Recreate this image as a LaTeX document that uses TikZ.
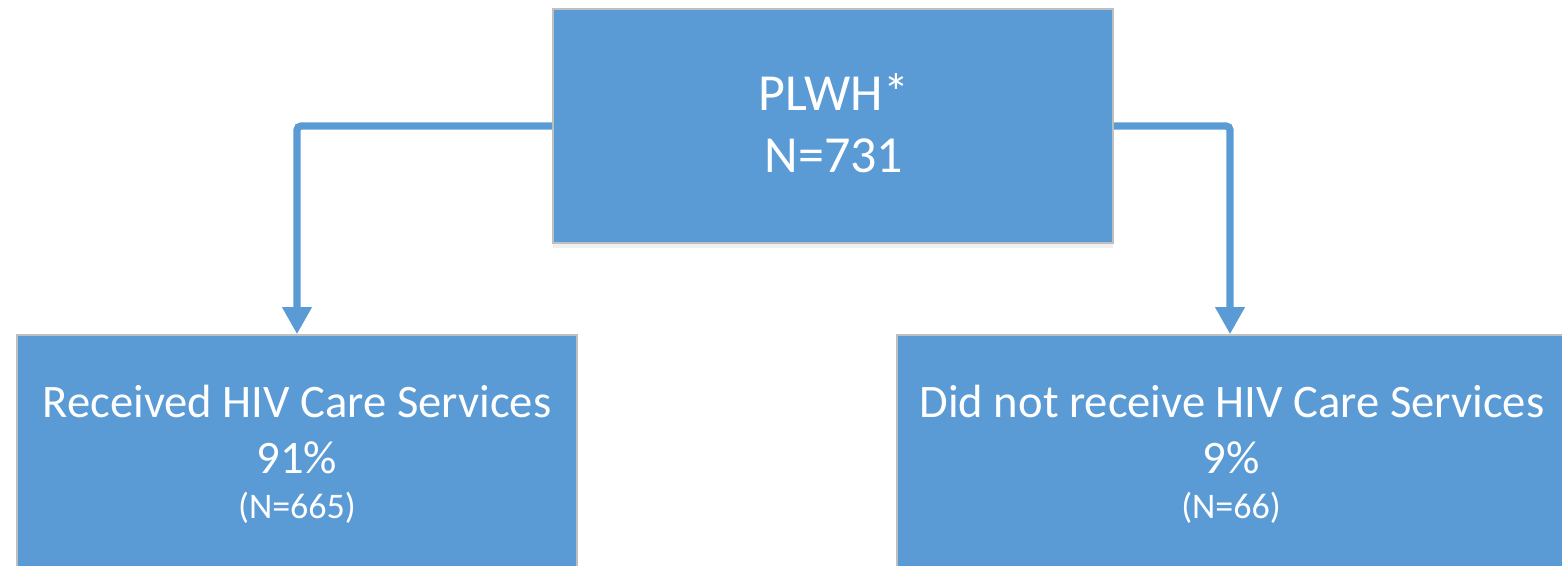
\documentclass[tikz,border=0pt]{standalone}
\usepackage{fontspec}
\setmainfont{Carlito}
\usetikzlibrary{arrows.meta,shadows}
\definecolor{boxblue}{HTML}{5B9BD5}
\definecolor{boxedge}{HTML}{BFBFBF}
\tikzset{
  box/.style={rectangle, fill=boxblue, draw=boxedge, line width=0.8pt, inner sep=0pt},
  boxshadow/.style={drop shadow={opacity=0.12, shadow xshift=0pt, shadow yshift=-2.5pt}},
  conn/.style={draw=boxblue, line width=3.6pt, rounded corners=2pt,
    -{Triangle[width=14pt,length=13.5pt]}},
  big/.style={text=white, anchor=base, inner sep=0pt, font=\fontsize{26}{30}\selectfont},
  mid/.style={text=white, anchor=base, inner sep=0pt, font=\fontsize{23.3}{27}\selectfont},
  small/.style={text=white, anchor=base, inner sep=0pt, font=\fontsize{18}{21}\selectfont},
}
\begin{document}
\begin{tikzpicture}[x=0.5pt, y=-0.5pt]
  \useasboundingbox (0,0) rectangle (1562,566);
  \clip (0,0) rectangle (1562,566);

  % boxes
  \node[box, boxshadow, minimum width=280pt, minimum height=117pt] (top) at (833,126) {};
  \node[box, minimum width=280pt, minimum height=142.5pt] (left) at (297,477.5) {};
  \node[box, minimum width=333pt, minimum height=142.5pt] (right) at (1230,477.5) {};

  % connectors
  \draw[conn] (top.west) -| (left.north);
  \draw[conn] (top.east) -| (right.north);

  % texts
  \node[big] (t1) at (834,111) {PLWH*};
  \node[big] (t2) at (834,173) {N=731};

  \node[mid] (l1) at (297,417) {Received HIV Care Services};
  \node[mid] (l2) at (297,473) {91\%};
  \node[small] (l3) at (297,518) {(N=665)};

  \node[mid] (r1) at (1232,417) {Did not receive HIV Care Services};
  \node[mid] (r2) at (1231,473) {9\%};
  \node[small] (r3) at (1231,518) {(N=66)};
\end{tikzpicture}
\end{document}
